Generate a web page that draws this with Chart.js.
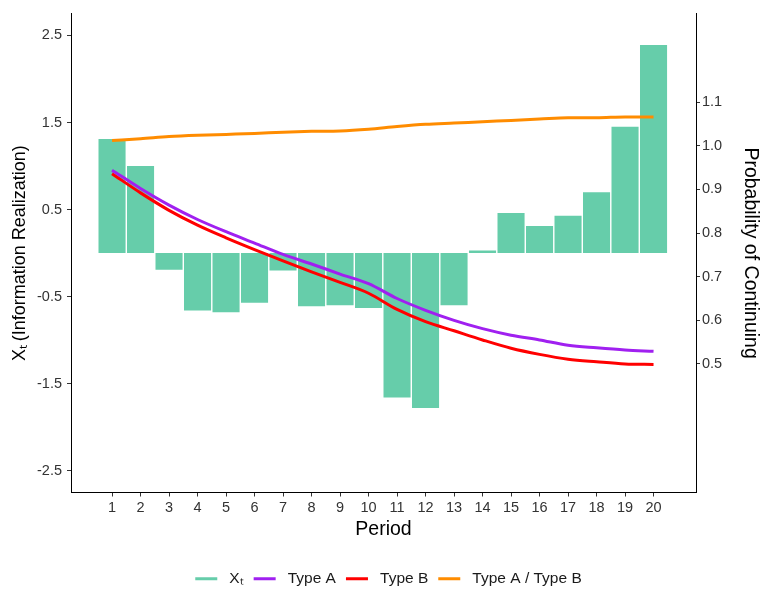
<!DOCTYPE html>
<html>
<head>
<meta charset="utf-8">
<script src="https://cdn.jsdelivr.net/npm/chart.js@4.4.1/dist/chart.umd.min.js"></script>
<style>
  html, body { margin: 0; padding: 0; background: #fff; }
  #wrap { width: 763px; height: 592px; position: relative; }
</style>
</head>
<body>
<div id="wrap"><canvas id="chart"></canvas></div>
<script>
// values
const periods = [1, 2, 3, 4, 5, 6, 7, 8, 9, 10, 11, 12, 13, 14, 15, 16, 17, 18, 19, 20];
const xtValues = [1.31, 1.00, -0.19, -0.66, -0.68, -0.57, -0.20, -0.61, -0.60, -0.63,
                  -1.66, -1.78, -0.60, 0.03, 0.46, 0.31, 0.43, 0.70, 1.45, 2.39];
const typeA = [0.944, 0.902, 0.864, 0.831, 0.803, 0.777, 0.751, 0.729, 0.706, 0.684,
               0.650, 0.623, 0.600, 0.581, 0.566, 0.555, 0.543, 0.537, 0.532, 0.529];
const typeB = [0.936, 0.892, 0.852, 0.818, 0.789, 0.762, 0.736, 0.711, 0.687, 0.662,
               0.625, 0.597, 0.576, 0.555, 0.536, 0.522, 0.511, 0.505, 0.500, 0.499];
const ratioAB = [1.012, 1.016, 1.021, 1.024, 1.026, 1.028, 1.031, 1.033, 1.034, 1.038,
                 1.044, 1.049, 1.052, 1.055, 1.058, 1.061, 1.064, 1.064, 1.066, 1.066];
const leftTicks = [-2.5, -1.5, -0.5, 0.5, 1.5, 2.5];
const rightTicks = [0.5, 0.6, 0.7, 0.8, 0.9, 1.0, 1.1];
const seriesNames = ["Xₜ", "Type A", "Type B", "Type A / Type B"];
const seriesColors = ["#66CDAA", "#A020F0", "#FF0000", "#FF8C00"];

const FONT = "'Liberation Sans', Arial, sans-serif";
const TICK_COLOR = "#333";

function pts(values) {
  return periods.map((p, i) => ({ x: p, y: values[i] }));
}

function lineSet(idx, values) {
  return {
    type: "line",
    label: seriesNames[idx],
    data: pts(values),
    yAxisID: "y1",
    borderColor: seriesColors[idx],
    backgroundColor: seriesColors[idx],
    borderWidth: 3,
    pointRadius: 0,
    cubicInterpolationMode: "monotone",
    fill: false,
    order: 1,
  };
}

// ggplot puts the legend a little right of the canvas centre
const legendNudge = {
  id: "legendNudge",
  afterLayout(chart) {
    if (chart.legend) {
      chart.legend.left += 7;
      chart.legend.right += 7;
    }
  },
};

new Chart(document.getElementById("chart").getContext("2d"), {
  type: "bar",
  data: {
    datasets: [
      {
        type: "bar",
        label: seriesNames[0],
        data: pts(xtValues),
        yAxisID: "y",
        backgroundColor: seriesColors[0],
        borderWidth: 0,
        barPercentage: 0.95,
        categoryPercentage: 1,
        order: 5,
      },
      lineSet(1, typeA),
      lineSet(2, typeB),
      lineSet(3, ratioAB),
    ],
  },
  plugins: [legendNudge],
  options: {
    responsive: true,
    maintainAspectRatio: false,
    animation: false,
    layout: { padding: { top: 13, left: 0, right: 0, bottom: -4.5 } },
    plugins: {
      tooltip: { enabled: false },
      legend: {
        position: "bottom",
        align: "center",
        labels: {
          font: { family: FONT, size: 15.5 },
          color: "#1a1a1a",
          boxWidth: 22,
          boxHeight: 3,
          padding: 10,
          generateLabels: function () {
            return seriesNames.map((n, i) => ({
              text: " " + n,
              fillStyle: seriesColors[i],
              strokeStyle: seriesColors[i],
              lineWidth: 0,
              hidden: false,
              datasetIndex: i,
              fontColor: "#1a1a1a",
            }));
          },
        },
      },
    },
    scales: {
      x: {
        type: "linear",
        position: "bottom",
        min: -0.44,
        max: 21.49,
        offset: false,
        grid: { display: true, drawOnChartArea: false, drawTicks: true, tickLength: 4, color: "#333", offset: false },
        border: { display: true, color: "#000", width: 1 },
        ticks: {
          font: { family: FONT, size: 14.5 },
          color: TICK_COLOR,
          padding: 3,
          autoSkip: false,
          maxRotation: 0,
          callback: (v) => String(v),
        },
        afterBuildTicks: (axis) => { axis.ticks = periods.map((v) => ({ value: v })); },
        afterFit: (scale) => { scale.height = 68.5; },
        title: {
          display: true,
          text: "Period",
          font: { family: FONT, size: 19.5 },
          color: "#000",
          padding: { top: 0, bottom: 19.3 },
        },
      },
      y: {
        type: "linear",
        position: "left",
        min: -2.75,
        max: 2.75,
        grid: { display: true, drawOnChartArea: false, drawTicks: true, tickLength: 4, color: "#333" },
        border: { display: true, color: "#000", width: 1 },
        ticks: {
          font: { family: FONT, size: 14.5 },
          color: TICK_COLOR,
          padding: 5,
          callback: (v) => v.toFixed(1),
        },
        afterBuildTicks: (axis) => { axis.ticks = leftTicks.map((v) => ({ value: v })); },
        afterFit: (scale) => { scale.width = 71; },
        title: {
          display: true,
          text: "Xₜ\u2009(Information Realization)",
          font: { family: FONT, size: 18 },
          color: "#000",
          padding: { top: 9.2, bottom: 0 },
        },
      },
      y1: {
        type: "linear",
        position: "right",
        min: 0.2055,
        max: 1.3025,
        grid: { display: true, drawOnChartArea: false, drawTicks: true, tickLength: 4, color: "#333" },
        border: { display: true, color: "#000", width: 1 },
        ticks: {
          font: { family: FONT, size: 14.5 },
          color: TICK_COLOR,
          padding: 2,
          callback: (v) => v.toFixed(1),
        },
        afterBuildTicks: (axis) => { axis.ticks = rightTicks.map((v) => ({ value: v })); },
        afterFit: (scale) => { scale.width = 67; },
        title: {
          display: true,
          text: "Probability of Continuing",
          font: { family: FONT, size: 19.5 },
          color: "#000",
          padding: { top: 1.3, bottom: 0 },
        },
      },
    },
  },
});
</script>
</body>
</html>
